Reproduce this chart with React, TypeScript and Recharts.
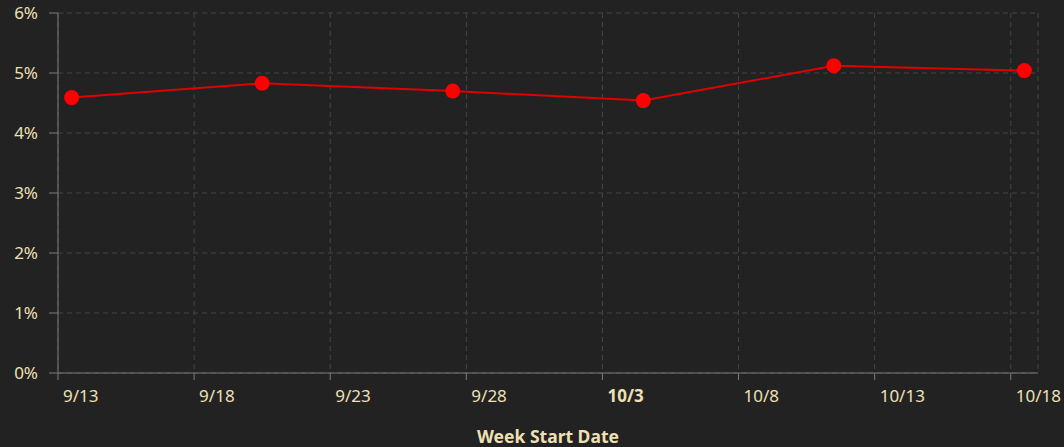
import React from 'react';
import { LineChart, Line, XAxis, YAxis, CartesianGrid } from 'recharts';

// week start dates (as plotted) and share values in %
const weekDates = [
  '2021-09-13T12:00:00Z',
  '2021-09-20T12:00:00Z',
  '2021-09-27T12:00:00Z',
  '2021-10-04T12:00:00Z',
  '2021-10-11T12:00:00Z',
  '2021-10-18T12:00:00Z',
];
const shareValues = [4.59, 4.83, 4.70, 4.54, 5.12, 5.04];

const xTickDates = ['2021-09-13', '2021-09-18', '2021-09-23', '2021-09-28', '2021-10-03', '2021-10-08', '2021-10-13', '2021-10-18'];
const xDomainDates = ['2021-09-13', '2021-10-19'];
const yTicks = [0, 1, 2, 3, 4, 5, 6];

const toTs = (s: string) => new Date(s.length === 10 ? s + 'T00:00:00Z' : s).getTime();

const data = weekDates.map((d, i) => ({ ts: toTs(d), value: shareValues[i] }));
const xTicks = xTickDates.map(toTs);
const xDomain = xDomainDates.map(toTs);

const TEXT = '#efe0b4';
const AXIS = '#7a7a7a';
const FONT = '"Noto Sans", "Open Sans", sans-serif';

const fmtDate = (ts: number) => {
  const d = new Date(ts);
  return `${d.getUTCMonth() + 1}/${d.getUTCDate()}`;
};

const XTick = (props: any) => {
  const { x, y, payload } = props;
  const d = new Date(payload.value);
  // month boundary gets bold label
  const bold = d.getUTCMonth() === 9 && d.getUTCDate() === 3;
  return (
    <text x={x + 5} y={y + 20} fill={TEXT} fontSize={17} fontFamily={FONT} fontWeight={bold ? 700 : 400} textAnchor="start">
      {fmtDate(payload.value)}
    </text>
  );
};

export default function App() {
  return (
    <div style={{ position: 'absolute', left: 0, top: 0, width: 1064, height: 447, background: '#222222' }}>
      <LineChart width={1064} height={447} data={data} margin={{ top: 13, right: 26, left: 0, bottom: 0 }}>
        <CartesianGrid stroke="#444444" strokeDasharray="5 4" />
        <XAxis
          dataKey="ts"
          type="number"
          scale="time"
          domain={xDomain}
          ticks={xTicks}
          height={74}
          stroke={AXIS}
          tickSize={7}
          tick={<XTick />}
          interval={0}
          allowDataOverflow
          label={{ value: 'Week Start Date', position: 'insideBottom', offset: 4, fill: TEXT, fontSize: 17.5, fontWeight: 700, fontFamily: FONT }}
        />
        <YAxis
          type="number"
          domain={[0, 6]}
          ticks={yTicks}
          width={58}
          stroke={AXIS}
          tickSize={9}
          tickMargin={11}
          interval={0}
          tickFormatter={(v: number) => `${v}%`}
          tick={{ fill: TEXT, fontSize: 17, fontFamily: FONT }}
        />
        <Line
          dataKey="value"
          type="linear"
          stroke="#e00000"
          strokeWidth={2}
          dot={{ r: 7.5, fill: '#ff0000', stroke: '#ff0000', strokeWidth: 0 }}
          activeDot={false}
          isAnimationActive={false}
        />
      </LineChart>
    </div>
  );
}
